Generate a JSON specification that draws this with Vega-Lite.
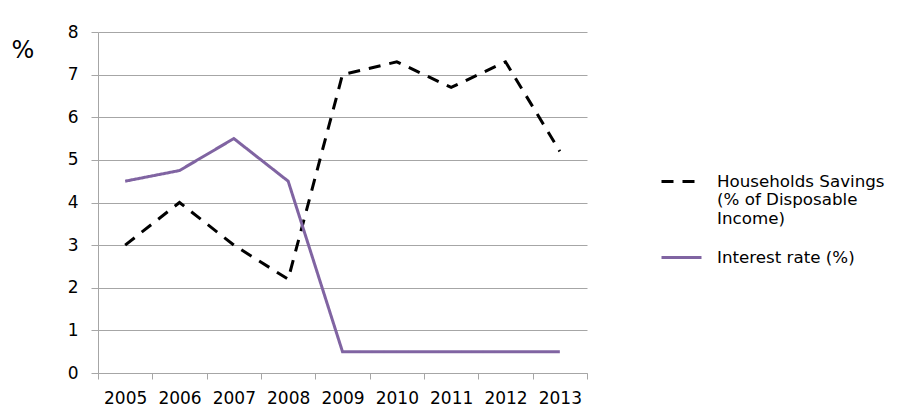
{
  "$schema": "https://vega.github.io/schema/vega-lite/v6.json",
  "width": 489,
  "height": 341,
  "autosize": {"type": "none"},
  "padding": {"left": 98, "top": 32, "right": 310, "bottom": 38},
  "background": "white",
  "config": {"view": {"stroke": null}, "font": "DejaVu Sans"},
  "data": {
    "values": [
      {"year": "2005", "series": "Households Savings", "value": 3.0},
      {"year": "2006", "series": "Households Savings", "value": 4.0},
      {"year": "2007", "series": "Households Savings", "value": 3.0},
      {"year": "2008", "series": "Households Savings", "value": 2.2},
      {"year": "2009", "series": "Households Savings", "value": 7.0},
      {"year": "2010", "series": "Households Savings", "value": 7.3},
      {"year": "2011", "series": "Households Savings", "value": 6.7},
      {"year": "2012", "series": "Households Savings", "value": 7.3},
      {"year": "2013", "series": "Households Savings", "value": 5.2},
      {"year": "2005", "series": "Interest rate (%)", "value": 4.5},
      {"year": "2006", "series": "Interest rate (%)", "value": 4.75},
      {"year": "2007", "series": "Interest rate (%)", "value": 5.5},
      {"year": "2008", "series": "Interest rate (%)", "value": 4.5},
      {"year": "2009", "series": "Interest rate (%)", "value": 0.5},
      {"year": "2010", "series": "Interest rate (%)", "value": 0.5},
      {"year": "2011", "series": "Interest rate (%)", "value": 0.5},
      {"year": "2012", "series": "Interest rate (%)", "value": 0.5},
      {"year": "2013", "series": "Interest rate (%)", "value": 0.5}
    ]
  },
  "mark": {"type": "line", "strokeWidth": 3, "strokeCap": "butt", "strokeJoin": "miter"},
  "encoding": {
    "x": {
      "field": "year",
      "type": "ordinal",
      "scale": {"type": "band", "paddingInner": 0, "paddingOuter": 0},
      "axis": {
        "title": null,
        "labelAngle": 0,
        "labelFontSize": 17,
        "labelColor": "#000000",
        "labelPadding": 11,
        "tickBand": "extent",
        "tickSize": 6,
        "tickColor": "#A6A6A6",
        "domainColor": "#A6A6A6",
        "grid": false
      }
    },
    "y": {
      "field": "value",
      "type": "quantitative",
      "scale": {"domain": [0, 8], "nice": false},
      "axis": {
        "values": [0, 1, 2, 3, 4, 5, 6, 7, 8],
        "title": "%",
        "titleAngle": 0,
        "titleFontSize": 24,
        "titleFontWeight": "normal",
        "titleColor": "#000000",
        "titleX": -87,
        "titleY": 25,
        "titleAlign": "left",
        "titleBaseline": "alphabetic",
        "labelFontSize": 17,
        "labelColor": "#000000",
        "labelPadding": 13,
        "tickSize": 7,
        "tickColor": "#A6A6A6",
        "domainColor": "#A6A6A6",
        "grid": true,
        "gridColor": "#A6A6A6"
      }
    },
    "color": {
      "field": "series",
      "type": "nominal",
      "scale": {"domain": ["Households Savings", "Interest rate (%)"], "range": ["#000000", "#8064A2"]},
      "legend": {
        "title": null,
        "orient": "none",
        "legendX": 562,
        "legendY": 128,
        "symbolType": "stroke",
        "symbolSize": 1600,
        "symbolStrokeWidth": 3,
        "labelFontSize": 16.7,
        "labelColor": "#000000",
        "labelOffset": 14,
        "labelLimit": 300,
        "labelBaseline": "middle",
        "rowPadding": 8,
        "labelExpr": "datum.label == 'Households Savings' ? ['Households Savings', '(% of Disposable', 'Income)'] : datum.label"
      }
    },
    "strokeDash": {
      "field": "series",
      "type": "nominal",
      "scale": {"domain": ["Households Savings", "Interest rate (%)"], "range": [[12, 9], [1, 0]]},
      "legend": {
        "title": null,
        "orient": "none",
        "legendX": 562,
        "legendY": 128,
        "symbolType": "stroke",
        "symbolSize": 1600,
        "symbolStrokeWidth": 3,
        "labelFontSize": 16.7,
        "labelColor": "#000000",
        "labelOffset": 14,
        "labelLimit": 300,
        "labelBaseline": "middle",
        "rowPadding": 8,
        "labelExpr": "datum.label == 'Households Savings' ? ['Households Savings', '(% of Disposable', 'Income)'] : datum.label"
      }
    }
  }
}
